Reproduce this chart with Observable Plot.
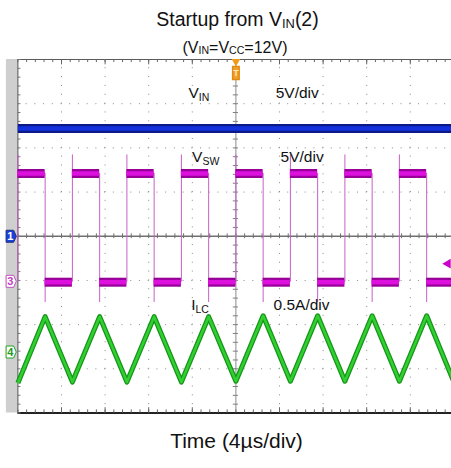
<!DOCTYPE html>
<html><head><meta charset="utf-8">
<script src="https://cdn.jsdelivr.net/npm/d3@7"></script>
<script src="https://cdn.jsdelivr.net/npm/@observablehq/plot@0.6"></script>
<style>
body{margin:0;background:#fff;font-family:"Liberation Sans",Arial,sans-serif;}
#wrap{position:relative;width:451px;height:468px;overflow:hidden;background:#fff;}
#wrap svg{position:absolute;left:0;top:0;}
.t{position:absolute;left:0;width:451px;text-align:center;color:#111;white-space:nowrap;line-height:1;}
.t sub{font-size:66%;vertical-align:baseline;position:relative;top:0.12em;}
#title{font-size:19.5px;top:10px;left:12px;}
#subtitle{font-size:16px;top:40px;left:9.5px;}
#xlabel{font-size:21px;top:430px;left:11px;}
</style></head><body>
<div id="wrap">
<div class="t" id="title">Startup from V<sub>IN</sub>(2)</div>
<div class="t" id="subtitle">(V<sub>IN</sub>=V<sub>CC</sub>=12V)</div>
<div class="t" id="xlabel">Time (4µs/div)</div>
</div>
<script>
// ---- channel settings (ground marker position in divisions, units per division)
const chOffsetDiv = [0, -1.02, -2.62];   // CH1 VIN, CH3 VSW, CH4 ILC
const chScale = [5, 5, 0.5];
const chMarkerLabel = ["1", "3", "4"];

// ---- VIN trace (V)
const vinTime = [-20, 20];
const vinVolt = [12.2, 12.2];

// ---- VSW switching node (V)
const vswRise = [-20, -15, -10, -5, 0, 5, 10, 15];
const vswFall = [-17.5, -12.5, -7.5, -2.5, 2.5, 7.5, 12.5, 17.5];
const vswHigh = 12.2;
const vswLow = -0.1;
const vswOvershoot = 14.3;
const vswUndershoot = -2.4;
const vswTrigger = 2.0;

// ---- ILC inductor current vertices (A)
const ilcTime = [-20, -17.5, -15, -12.5, -10, -7.5, -5, -2.5, 0, 2.5, 5, 7.5, 10, 12.5, 15, 17.5, 20];
const ilcAmp  = [-0.35, 0.40, -0.34, 0.40, -0.34, 0.40, -0.34, 0.40, -0.33, 0.41, -0.33, 0.41, -0.33, 0.41, -0.33, 0.41, -0.34];

// ---- annotations
const labelText = ["V_IN", "5V/div", "V_SW", "5V/div", "I_LC", "0.5A/div"];
const labelTime = [-4.35, 3.65, -4.02, 4.1, -4.1, 3.45];
const labelDiv  = [3.12, 3.12, 1.68, 1.68, -1.67, -1.67];

// ---- graticule
const gridTimes = [-16, -12, -8, -4, 4, 8, 12, 16];
const gridDivs = [-3, -2, -1, 1, 2, 3];
const minorTimes = d3.range(-20, 20.001, 0.8);
const minorDivs = d3.range(-4, 4.001, 0.2);

const toDiv = (ch, v) => chOffsetDiv[ch] + v / chScale[ch];

const vin = vinTime.map((t, i) => ({t, y: toDiv(0, vinVolt[i])}));
const highSegs = vswRise.map(r => ({x1: r, x2: vswFall.find(f => f > r) ?? 20, y: toDiv(1, vswHigh)}));
const lowSegs = vswFall.map(f => ({x1: f, x2: vswRise.find(r => r > f) ?? 20, y: toDiv(1, vswLow)}));
const vswSegs = highSegs.concat(lowSegs);
const ilc = ilcTime.map((t, i) => ({t, y: toDiv(2, ilcAmp[i])}));
const markers = chOffsetDiv.map((d, i) => ({y: d, label: chMarkerLabel[i], i}));
const labels = labelText.map((s, i) => ({s, t: labelTime[i], y: labelDiv[i]}));

const tagSymbol = {draw(ctx, size) {
  const r = Math.sqrt(size / Math.PI);
  ctx.moveTo(-0.8 * r, -r); ctx.lineTo(0.45 * r, -r); ctx.lineTo(0.9 * r, 0);
  ctx.lineTo(0.45 * r, r); ctx.lineTo(-0.8 * r, r); ctx.closePath();
}};
const boxSymbol = {draw(ctx, size) {
  const r = Math.sqrt(size / Math.PI);
  ctx.moveTo(-0.5 * r, -r); ctx.lineTo(0.5 * r, -r); ctx.lineTo(0.5 * r, r);
  ctx.lineTo(-0.5 * r, r); ctx.closePath();
}};

const dotted = {stroke: "#8a8a8a", strokeWidth: 1, strokeDasharray: "1,7.84", strokeDashoffset: 0.5};

const svg = Plot.plot({
  width: 451, height: 468,
  marginTop: 0, marginBottom: 0, marginLeft: 0, marginRight: 0,
  x: {domain: [-20, 20], range: [17.4, 453.4], axis: null},
  y: {domain: [-4, 4], range: [412.5, 59], axis: null},
  marks: [
    // left gray strip
    Plot.ruleX([-20], {y1: -4, y2: 4, dx: -6, stroke: "#cfcfcf", strokeWidth: 12}),
    // dotted graticule
    Plot.ruleX(gridTimes, {y1: -4, y2: 4, ...dotted}),
    Plot.ruleY(gridDivs, {x1: -20, x2: 20, ...dotted, strokeDasharray: "1,7.72"}),
    // centre crosshair
    Plot.ruleX([0], {y1: -4, y2: 4, stroke: "#8c8c8c", strokeWidth: 1}),
    Plot.ruleY([0], {x1: -20, x2: 20, stroke: "#707070", strokeWidth: 1.6}),
    Plot.ruleX(minorTimes, {y1: -0.055, y2: 0.055, stroke: "#707070", strokeWidth: 1}),
    Plot.ruleY(minorDivs, {x1: -0.24, x2: 0.24, stroke: "#808080", strokeWidth: 1}),
    // frame borders with ticks
    Plot.ruleY([4], {x1: -20, x2: 20, stroke: "#5a5a5a", strokeWidth: 1}),
    Plot.ruleY([-4], {x1: -20, x2: 20, stroke: "#222", strokeWidth: 2}),
    Plot.ruleX([-20], {y1: -4, y2: 4, stroke: "#555", strokeWidth: 1}),
    Plot.ruleX(minorTimes, {y1: 4, y2: 3.93, stroke: "#666", strokeWidth: 1}),
    Plot.ruleX(minorTimes, {y1: -4, y2: -3.93, stroke: "#666", strokeWidth: 1}),
    Plot.ruleX(gridTimes, {y1: 4, y2: 3.88, stroke: "#666", strokeWidth: 1}),
    Plot.ruleX(gridTimes, {y1: -4, y2: -3.88, stroke: "#666", strokeWidth: 1}),
    Plot.ruleY(minorDivs, {x1: -20, x2: -19.72, stroke: "#777", strokeWidth: 1}),
    // VIN trace
    Plot.line(vin, {x: "t", y: "y", stroke: "#0b1a86", strokeWidth: 9, strokeLinecap: "butt"}),
    Plot.line(vin, {x: "t", y: "y", stroke: "#1230dc", strokeWidth: 4.5, strokeLinecap: "butt"}),
    // VSW edges (thin)
    Plot.ruleX(vswRise, {y1: toDiv(1, vswLow), y2: toDiv(1, vswOvershoot), stroke: "#c860c8", strokeWidth: 1}),
    Plot.ruleX(vswFall, {y1: toDiv(1, vswHigh), y2: toDiv(1, vswUndershoot), stroke: "#c860c8", strokeWidth: 1}),
    // VSW levels
    Plot.ruleY(vswSegs, {x1: "x1", x2: "x2", y: "y", stroke: "#99009a", strokeWidth: 9}),
    Plot.ruleY(vswSegs, {x1: "x1", x2: "x2", y: "y", stroke: "#dd10dd", strokeWidth: 4.5}),
    // ILC trace
    Plot.line(ilc, {x: "t", y: "y", stroke: "#17951a", strokeWidth: 5, strokeLinecap: "butt"}),
    Plot.line(ilc, {x: "t", y: "y", stroke: "#30d030", strokeWidth: 2.5, strokeLinecap: "butt"}),
    // channel markers
    Plot.dot(markers, {x: -20, y: "y", dx: -7, r: 6, symbol: tagSymbol,
      fill: d => d.i === 0 ? "#1a3fe0" : "#ffffff",
      stroke: d => ["#203070", "#c050c0", "#22a022"][d.i], strokeWidth: 1}),
    Plot.text(markers, {x: -20, y: "y", dx: -7.5, text: "label", fontSize: 11, fontWeight: "bold",
      fill: d => ["#ffffff", "#c040c0", "#1f9a1f"][d.i]}),
    // trigger position marker
    Plot.dot([0], {x: d => d, y: 4, dy: 2, r: 3.2, symbol: "triangle", rotate: 180, fill: "#f09a1c"}),
    Plot.dot([0], {x: d => d, y: 4, dy: 13.5, r: 6.5, symbol: boxSymbol, fill: "#f0a030", stroke: "#e08a10"}),
    Plot.text([0], {x: d => d, y: 4, dy: 13.5, text: () => "T", fontSize: 9, fill: "#ffe6b0", fontWeight: "bold"}),
    // trigger level marker
    Plot.dot([vswTrigger], {x: 20, y: d => toDiv(1, d), dx: -6, r: 3.6, symbol: "triangle", rotate: -90, fill: "#cc00cc"}),
    // annotations
    Plot.text(labels, {x: "t", y: "y", text: "s", textAnchor: "start", lineAnchor: "bottom",
      fontSize: 15.5, fill: "#111", className: "lbl"})
  ]
});
svg.style.fontFamily = '"Liberation Sans", Arial, sans-serif';
svg.querySelectorAll(".lbl text").forEach(el => {
  const s = el.textContent;
  const k = s.indexOf("_");
  if (k >= 0) {
    el.textContent = "";
    const a = document.createElementNS("http://www.w3.org/2000/svg", "tspan");
    a.textContent = s.slice(0, k);
    const b = document.createElementNS("http://www.w3.org/2000/svg", "tspan");
    b.textContent = s.slice(k + 1);
    b.setAttribute("font-size", "10.5");
    b.setAttribute("dy", "2.8");
    el.appendChild(a); el.appendChild(b);
  }
});
document.getElementById("wrap").prepend(svg);
</script>
</body></html>
